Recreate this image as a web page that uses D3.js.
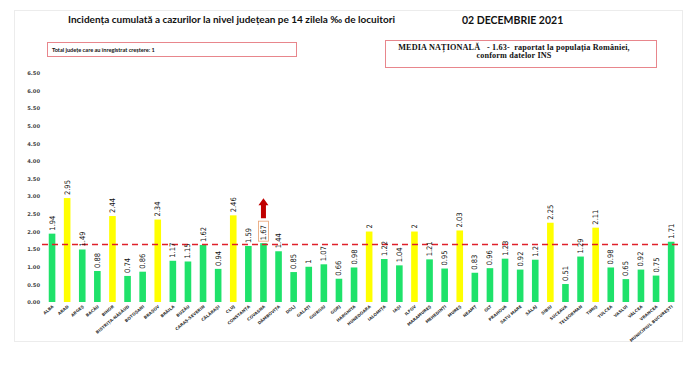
<!DOCTYPE html>
<html><head><meta charset="utf-8">
<script src="https://cdn.jsdelivr.net/npm/d3@7"></script>
<style>body{margin:0;background:#fff;}svg{display:block;}</style>
</head><body>
<svg id="c" width="700" height="369"></svg>
<script>
const categories = ["ALBA","ARAD","ARGEȘ","BACĂU","BIHOR","BISTRIȚA-NĂSĂUD","BOTOȘANI","BRAȘOV","BRĂILA","BUZĂU","CARAȘ-SEVERIN","CĂLĂRAȘI","CLUJ","CONSTANȚA","COVASNA","DÂMBOVIȚA","DOLJ","GALAȚI","GIURGIU","GORJ","HARGHITA","HUNEDOARA","IALOMIȚA","IAȘI","ILFOV","MARAMUREȘ","MEHEDINȚI","MUREȘ","NEAMȚ","OLT","PRAHOVA","SATU MARE","SĂLAJ","SIBIU","SUCEAVA","TELEORMAN","TIMIȘ","TULCEA","VASLUI","VÂLCEA","VRANCEA","MUNICIPIUL BUCUREȘTI"];
const values = [1.94,2.95,1.49,0.88,2.44,0.74,0.86,2.34,1.17,1.15,1.62,0.94,2.46,1.59,1.67,1.44,0.85,1,1.07,0.66,0.98,2,1.22,1.04,2,1.21,0.95,2.03,0.83,0.96,1.23,0.92,1.2,2.25,0.51,1.29,2.11,0.98,0.65,0.92,0.75,1.71];
const labels = ["1.94","2.95","1.49","0.88","2.44","0.74","0.86","2.34","1.17","1.15","1.62","0.94","2.46","1.59","1.67","1.44","0.85","1","1.07","0.66","0.98","2","1.22","1.04","2","1.21","0.95","2.03","0.83","0.96","1.23","0.92","1.2","2.25","0.51","1.29","2.11","0.98","0.65","0.92","0.75","1.71"];
const yTicks = [0,0.5,1,1.5,2,2.5,3,3.5,4,4.5,5,5.5,6,6.5];
const nationalMean = 1.63;
const increased = ["COVASNA"];
const titleText = "Incidența cumulată a cazurilor la nivel județean pe 14 zilela ‰ de locuitori";
const dateText = "02 DECEMBRIE 2021";
const leftBoxText = "Total județe care au înregistrat creștere: 1";
const rightBoxLines = ["MEDIA NAȚIONALĂ   - 1.63-  raportat la populația României,", "conform datelor INS"];

const svg = d3.select("#c");
const GREEN = "#1fe26a", YELLOW = "#ffff00";

// outer frame
svg.append("rect").attr("x",14.5).attr("y",10.5).attr("width",668).attr("height",331)
  .attr("fill","none").attr("stroke","#ececec").attr("stroke-width",1);

// title
svg.append("text").attr("x",68).attr("y",23).text(titleText)
  .attr("font-family","Lato, 'Open Sans', sans-serif").attr("font-weight","bold").attr("font-size",10).attr("fill","#111");
svg.append("text").attr("x",462).attr("y",24).text(dateText)
  .attr("font-family","Lato, 'Open Sans', sans-serif").attr("font-weight","bold").attr("font-size",10.5).attr("fill","#111");

// left box
svg.append("rect").attr("x",47.5).attr("y",42.5).attr("width",249).attr("height",14)
  .attr("fill","#fff").attr("stroke","#e8868c").attr("stroke-width",1);
svg.append("text").attr("x",52).attr("y",52).text(leftBoxText)
  .attr("font-family","Lato, sans-serif").attr("font-weight","bold").attr("font-size",5.6).attr("fill","#111");

// right box
svg.append("rect").attr("x",385.5).attr("y",40.5).attr("width",271).attr("height",27)
  .attr("fill","#fff").attr("stroke","#e8868c").attr("stroke-width",1);
rightBoxLines.forEach((t,i)=>{
  svg.append("text").attr("x",514).attr("y",49.5+i*8.5).attr("text-anchor","middle").text(t)
    .style("white-space","pre")
    .attr("font-family","'Liberation Serif', serif").attr("font-weight","bold").attr("font-size",8.2)
    .attr("letter-spacing",0.15).attr("fill","#111");
});

const x = d3.scaleBand().domain(categories).range([44.5, 678.7]).padding(0);
const y = d3.scaleLinear().domain([0,6.5]).range([302,73]);
const bw = 6.6;

// y axis labels
const yAxis = d3.axisLeft(y).tickValues(yTicks).tickFormat(d3.format(".2f")).tickSize(0).tickPadding(0);
const ga = svg.append("g").attr("transform","translate(40,0)").call(yAxis);
ga.select(".domain").remove();
ga.selectAll("text").attr("font-family","'DejaVu Sans', sans-serif").attr("font-weight","bold").attr("font-size",5.2).attr("fill","#444");

// bars
const data = categories.map((c,i)=>({c, v:values[i], l:labels[i]}));
svg.append("g").selectAll("rect").data(data).join("rect")
  .attr("x",d=>x(d.c)+x.bandwidth()/2-bw/2).attr("width",bw)
  .attr("y",d=>y(d.v)).attr("height",d=>y(0)-y(d.v))
  .attr("fill",d=>d.v>=2?YELLOW:GREEN);

// mean dashed line
svg.append("line").attr("x1",42).attr("x2",680).attr("y1",y(nationalMean)).attr("y2",y(nationalMean))
  .attr("stroke","#e0202a").attr("stroke-width",1.6).attr("stroke-dasharray","6,4");

// value labels
svg.append("g").selectAll("text").data(data).join("text")
  .attr("transform",d=>`translate(${x(d.c)+x.bandwidth()/2+2.5},${y(d.v)-3}) rotate(-90)`)
  .text(d=>d.l)
  .attr("font-family","'Liberation Sans Narrow','DejaVu Sans Condensed', sans-serif").attr("font-size",7.5).attr("fill","#111");

// box around increased label + arrow
data.filter(d=>increased.includes(d.c)).forEach(d=>{
  const cx = x(d.c)+x.bandwidth()/2;
  const yt = y(d.v);
  svg.append("rect").attr("x",cx-5).attr("y",yt-22).attr("width",10).attr("height",20)
    .attr("fill","none").attr("stroke","#e8a070").attr("stroke-width",0.8);
  const top = yt-45, bot = yt-25;
  svg.append("path").attr("d",`M${cx-2.5},${bot} L${cx-2.5},${top+7} L${cx-5},${top+7} L${cx},${top} L${cx+5},${top+7} L${cx+2.5},${top+7} L${cx+2.5},${bot} Z`)
    .attr("fill","#c00000");
});

// x labels
svg.append("g").selectAll("text").data(data).join("text")
  .attr("transform",d=>`translate(${x(d.c)+x.bandwidth()/2+2},${307}) rotate(-40)`)
  .attr("text-anchor","end").text(d=>d.c)
  .attr("font-family","'DejaVu Sans', sans-serif").attr("font-weight","bold").attr("font-size",4.1).attr("fill","#333");
</script>
</body></html>
